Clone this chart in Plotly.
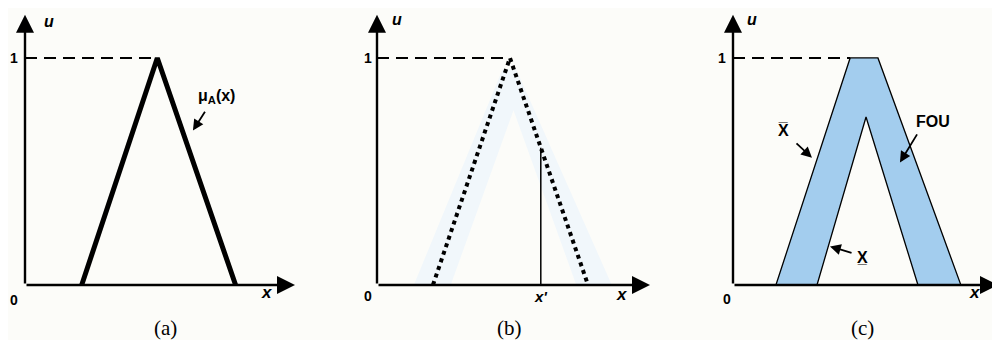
import plotly.graph_objects as go

# panel (a): type-1 triangular MF
a_x = [2.1, 4.9, 7.8]
a_u = [0, 1, 0]

# panel (b): dotted primary MF, faint FOU behind it, vertical at x'
b_x = [2.05, 4.87, 7.73]
b_u = [0, 1, 0]
b_xp = 6.0
b_ghost_x = [1.35, 4.6, 5.1, 8.6, 7.3, 5.0, 2.7]
b_ghost_u = [0, 0.95, 0.95, 0, 0, 0.77, 0]

# panel (c): FOU between upper and lower MF
c_upper_x = [1.62, 4.42, 5.47, 8.6]
c_upper_u = [0, 1, 1, 0]
c_lower_x = [6.98, 5.02, 3.17]
c_lower_u = [0, 0.74, 0]

BG = "#fcfcf9"
BLUE = "#a3cdee"
SANS = "Liberation Sans, Arial, sans-serif"
SERIF = "Liberation Serif, Times New Roman, serif"

fig = go.Figure()

# x axes for the three panels (shared y); page body adds an 8px offset
axes = {
    "x": dict(domain=[0, 0.33], range=[-17 / 27, 313 / 27]),
    "x2": dict(domain=[0.33, 0.66], range=[-39 / 27.3, 291 / 27.3]),
    "x3": dict(domain=[0.66, 1.0], range=[-65 / 26.5, 275 / 26.5]),
}

# (a)
fig.add_scatter(x=a_x, y=a_u, mode="lines", xaxis="x", yaxis="y",
                line=dict(color="black", width=5), showlegend=False)
fig.add_scatter(x=[0, a_x[1]], y=[1, 1], mode="lines", xaxis="x", yaxis="y",
                line=dict(color="black", width=2, dash="12px,7px"), showlegend=False)

# (b)
fig.add_scatter(x=b_ghost_x, y=b_ghost_u, mode="lines", fill="toself", xaxis="x2", yaxis="y",
                fillcolor="#f1f7fb", line=dict(width=0), showlegend=False)
fig.add_scatter(x=b_x, y=b_u, mode="lines", xaxis="x2", yaxis="y",
                line=dict(color="black", width=4, dash="dot"), showlegend=False)
fig.add_scatter(x=[0, b_x[1]], y=[1, 1], mode="lines", xaxis="x2", yaxis="y",
                line=dict(color="black", width=2, dash="12px,7px"), showlegend=False)
b_up = (b_x[2] - b_xp) / (b_x[2] - b_x[1])
fig.add_scatter(x=[b_xp, b_xp], y=[0, b_up], mode="lines", xaxis="x2", yaxis="y",
                line=dict(color="black", width=1.5), showlegend=False)

# (c)
fig.add_scatter(x=c_upper_x + c_lower_x, y=c_upper_u + c_lower_u, mode="lines",
                fill="toself", fillcolor=BLUE, xaxis="x3", yaxis="y",
                line=dict(color="black", width=1.3), showlegend=False)
fig.add_scatter(x=[0, c_upper_x[1]], y=[1, 1], mode="lines", xaxis="x3", yaxis="y",
                line=dict(color="black", width=2, dash="12px,7px"), showlegend=False)

ann = []
for xr in ["x", "x2", "x3"]:
    # axis arrows
    ann.append(dict(x=10, y=0, ax=0, ay=0, xref=xr, yref="y", axref=xr, ayref="y",
                    showarrow=True, arrowhead=2, arrowsize=1.5, arrowwidth=2.4,
                    arrowcolor="black", text="", standoff=0, startstandoff=0))
    ann.append(dict(x=0, y=1.19, ax=0, ay=0, xref=xr, yref="y", axref=xr, ayref="y",
                    showarrow=True, arrowhead=2, arrowsize=1.5, arrowwidth=2.4,
                    arrowcolor="black", text="", standoff=0, startstandoff=0))


def label(xr, x, y, text, size=14, font=SANS, xanchor="center"):
    ann.append(dict(x=x, y=y, xref=xr, yref="y", text=text, showarrow=False,
                    xanchor=xanchor, yanchor="middle",
                    font=dict(family=font, size=size, color="black")))


def pointer(xr, x, y, ax, ay):
    ann.append(dict(x=x, y=y, ax=ax, ay=ay, xref=xr, yref="y", axref=xr, ayref="y",
                    showarrow=True, arrowhead=2, arrowsize=1.2, arrowwidth=1.8,
                    arrowcolor="black", text="", standoff=0, startstandoff=0))


# (a) labels
label("x", 0.88, 1.16, "<b><i>u</i></b>", 16)
label("x", -0.41, 1.0, "<b>1</b>", 14)
label("x", -0.41, -0.066, "<b>0</b>", 14)
label("x", 8.96, -0.035, "<b><i>x</i></b>", 17)
label("x", 5.19, -0.19, "(a)", 21, SERIF)
label("x", 7.1, 0.83, "<b>μ<sub>A</sub>(x)</b>", 16)
pointer("x", 6.22, 0.68, 6.70, 0.77)

# (b) labels
label("x2", 0.73, 1.17, "<b><i>u</i></b>", 16)
label("x2", -0.33, 1.0, "<b>1</b>", 14)
label("x2", -0.33, -0.05, "<b>0</b>", 14)
label("x2", b_xp, -0.05, "<b><i>x'</i></b>", 15)
label("x2", 8.97, -0.04, "<b><i>x</i></b>", 17)
label("x2", 4.87, -0.19, "(b)", 21, SERIF)

# (c) labels
label("x3", 0.72, 1.17, "<b><i>u</i></b>", 16)
label("x3", -0.42, 1.0, "<b>1</b>", 14)
label("x3", -0.23, -0.06, "<b>0</b>", 14)
label("x3", 9.13, -0.035, "<b><i>x</i></b>", 17)
label("x3", 4.9, -0.19, "(c)", 21, SERIF)
label("x3", 1.89, 0.68, "<b>X\u0305</b>", 16)
pointer("x3", 2.98, 0.56, 2.34, 0.63)
label("x3", 4.87, 0.12, "<b>X\u0332</b>", 16)
pointer("x3", 3.66, 0.17, 4.53, 0.14)
label("x3", 7.55, 0.72, "<b>FOU</b>", 16)
pointer("x3", 6.30, 0.54, 6.98, 0.67)

layout_axes = {}
for name, cfg in axes.items():
    key = "xaxis" if name == "x" else "xaxis" + name[1:]
    layout_axes[key] = dict(domain=cfg["domain"], range=cfg["range"], anchor="y",
                            visible=False, fixedrange=True)

fig.update_layout(
    width=1000, height=340,
    margin=dict(l=0, r=0, t=0, b=0),
    paper_bgcolor=BG, plot_bgcolor=BG,
    yaxis=dict(range=[-0.2775, 1.220], visible=False, domain=[0, 1]),
    annotations=ann,
    **layout_axes,
)

fig.write_html("out.html")
